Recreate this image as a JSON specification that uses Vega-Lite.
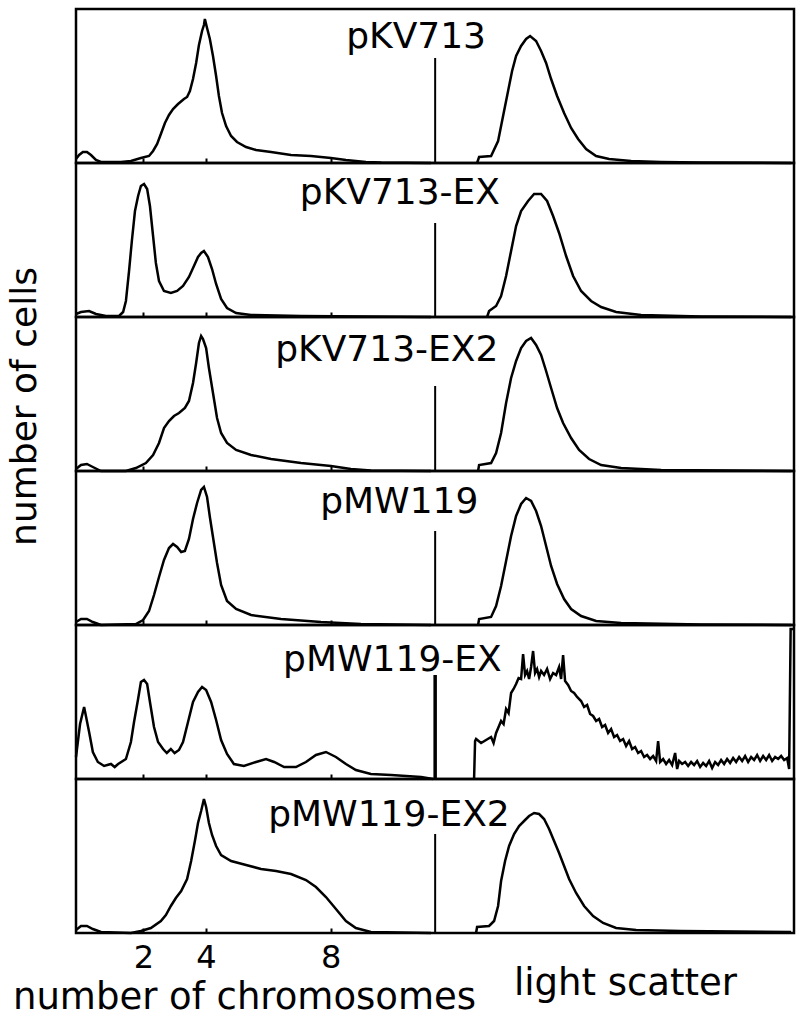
{
"$schema":"https://vega.github.io/schema/vega-lite/v6.json",
"background":"white",
"padding":{"left":4,"top":7,"right":5,"bottom":0},
"spacing":0,
"bounds":"flush",
"config":{"view":{"stroke":"black","strokeWidth":2.5},"axis":{"titleFont":"DejaVu Sans","labelFont":"DejaVu Sans","titleFontWeight":"normal","titleColor":"black","labelColor":"black"},"concat":{"spacing":0}},
"datasets":{
"dna":[
{"plasmid":"pKV713","chromosomes":-0.16,"cells":4},{"plasmid":"pKV713","chromosomes":-0.06,"cells":8},{"plasmid":"pKV713","chromosomes":0.06,"cells":11},{"plasmid":"pKV713","chromosomes":0.19,"cells":11},{"plasmid":"pKV713","chromosomes":0.32,"cells":8},{"plasmid":"pKV713","chromosomes":0.48,"cells":3},{"plasmid":"pKV713","chromosomes":0.64,"cells":1},{"plasmid":"pKV713","chromosomes":1.28,"cells":1},{"plasmid":"pKV713","chromosomes":1.6,"cells":2},{"plasmid":"pKV713","chromosomes":1.92,"cells":5},{"plasmid":"pKV713","chromosomes":2.18,"cells":7},{"plasmid":"pKV713","chromosomes":2.31,"cells":12},{"plasmid":"pKV713","chromosomes":2.44,"cells":19},{"plasmid":"pKV713","chromosomes":2.56,"cells":29},{"plasmid":"pKV713","chromosomes":2.69,"cells":40},{"plasmid":"pKV713","chromosomes":2.82,"cells":48},{"plasmid":"pKV713","chromosomes":2.95,"cells":54},{"plasmid":"pKV713","chromosomes":3.11,"cells":59},{"plasmid":"pKV713","chromosomes":3.3,"cells":64},{"plasmid":"pKV713","chromosomes":3.4,"cells":66},{"plasmid":"pKV713","chromosomes":3.49,"cells":72},{"plasmid":"pKV713","chromosomes":3.59,"cells":84},{"plasmid":"pKV713","chromosomes":3.69,"cells":100},{"plasmid":"pKV713","chromosomes":3.78,"cells":118},{"plasmid":"pKV713","chromosomes":3.88,"cells":132},{"plasmid":"pKV713","chromosomes":3.94,"cells":138},{"plasmid":"pKV713","chromosomes":3.97,"cells":144},{"plasmid":"pKV713","chromosomes":4.04,"cells":135},{"plasmid":"pKV713","chromosomes":4.13,"cells":124},{"plasmid":"pKV713","chromosomes":4.23,"cells":107},{"plasmid":"pKV713","chromosomes":4.33,"cells":87},{"plasmid":"pKV713","chromosomes":4.42,"cells":67},{"plasmid":"pKV713","chromosomes":4.52,"cells":50},{"plasmid":"pKV713","chromosomes":4.65,"cells":37},{"plasmid":"pKV713","chromosomes":4.81,"cells":27},{"plasmid":"pKV713","chromosomes":5.0,"cells":21},{"plasmid":"pKV713","chromosomes":5.29,"cells":16},{"plasmid":"pKV713","chromosomes":5.61,"cells":13},{"plasmid":"pKV713","chromosomes":6.09,"cells":11},{"plasmid":"pKV713","chromosomes":6.73,"cells":8},{"plasmid":"pKV713","chromosomes":7.37,"cells":7},{"plasmid":"pKV713","chromosomes":8.01,"cells":5},{"plasmid":"pKV713","chromosomes":8.49,"cells":3},{"plasmid":"pKV713","chromosomes":9.13,"cells":1},{"plasmid":"pKV713","chromosomes":9.62,"cells":0.5},{"plasmid":"pKV713","chromosomes":11.22,"cells":0},
{"plasmid":"pKV713-EX","chromosomes":-0.16,"cells":3},{"plasmid":"pKV713-EX","chromosomes":0,"cells":5},{"plasmid":"pKV713-EX","chromosomes":0.26,"cells":6},{"plasmid":"pKV713-EX","chromosomes":0.48,"cells":3},{"plasmid":"pKV713-EX","chromosomes":0.8,"cells":1},{"plasmid":"pKV713-EX","chromosomes":1.22,"cells":1},{"plasmid":"pKV713-EX","chromosomes":1.35,"cells":5},{"plasmid":"pKV713-EX","chromosomes":1.44,"cells":16},{"plasmid":"pKV713-EX","chromosomes":1.54,"cells":46},{"plasmid":"pKV713-EX","chromosomes":1.63,"cells":76},{"plasmid":"pKV713-EX","chromosomes":1.73,"cells":106},{"plasmid":"pKV713-EX","chromosomes":1.83,"cells":121},{"plasmid":"pKV713-EX","chromosomes":1.92,"cells":131},{"plasmid":"pKV713-EX","chromosomes":2.02,"cells":133},{"plasmid":"pKV713-EX","chromosomes":2.12,"cells":128},{"plasmid":"pKV713-EX","chromosomes":2.21,"cells":111},{"plasmid":"pKV713-EX","chromosomes":2.31,"cells":81},{"plasmid":"pKV713-EX","chromosomes":2.4,"cells":54},{"plasmid":"pKV713-EX","chromosomes":2.5,"cells":36},{"plasmid":"pKV713-EX","chromosomes":2.66,"cells":26},{"plasmid":"pKV713-EX","chromosomes":2.88,"cells":24},{"plasmid":"pKV713-EX","chromosomes":3.08,"cells":26},{"plasmid":"pKV713-EX","chromosomes":3.27,"cells":31},{"plasmid":"pKV713-EX","chromosomes":3.46,"cells":40},{"plasmid":"pKV713-EX","chromosomes":3.62,"cells":51},{"plasmid":"pKV713-EX","chromosomes":3.75,"cells":60},{"plasmid":"pKV713-EX","chromosomes":3.85,"cells":64},{"plasmid":"pKV713-EX","chromosomes":3.94,"cells":66},{"plasmid":"pKV713-EX","chromosomes":4.07,"cells":60},{"plasmid":"pKV713-EX","chromosomes":4.2,"cells":48},{"plasmid":"pKV713-EX","chromosomes":4.33,"cells":33},{"plasmid":"pKV713-EX","chromosomes":4.49,"cells":18},{"plasmid":"pKV713-EX","chromosomes":4.68,"cells":9},{"plasmid":"pKV713-EX","chromosomes":4.97,"cells":4},{"plasmid":"pKV713-EX","chromosomes":5.45,"cells":2},{"plasmid":"pKV713-EX","chromosomes":7.05,"cells":1},{"plasmid":"pKV713-EX","chromosomes":11.22,"cells":0},
{"plasmid":"pKV713-EX2","chromosomes":-0.16,"cells":2},{"plasmid":"pKV713-EX2","chromosomes":0,"cells":6},{"plasmid":"pKV713-EX2","chromosomes":0.19,"cells":7},{"plasmid":"pKV713-EX2","chromosomes":0.38,"cells":4},{"plasmid":"pKV713-EX2","chromosomes":0.64,"cells":0},{"plasmid":"pKV713-EX2","chromosomes":1.44,"cells":0},{"plasmid":"pKV713-EX2","chromosomes":1.76,"cells":3},{"plasmid":"pKV713-EX2","chromosomes":2.08,"cells":8},{"plasmid":"pKV713-EX2","chromosomes":2.31,"cells":16},{"plasmid":"pKV713-EX2","chromosomes":2.5,"cells":28},{"plasmid":"pKV713-EX2","chromosomes":2.66,"cells":43},{"plasmid":"pKV713-EX2","chromosomes":2.82,"cells":50},{"plasmid":"pKV713-EX2","chromosomes":2.98,"cells":55},{"plasmid":"pKV713-EX2","chromosomes":3.14,"cells":58},{"plasmid":"pKV713-EX2","chromosomes":3.33,"cells":63},{"plasmid":"pKV713-EX2","chromosomes":3.46,"cells":70},{"plasmid":"pKV713-EX2","chromosomes":3.59,"cells":88},{"plasmid":"pKV713-EX2","chromosomes":3.69,"cells":108},{"plasmid":"pKV713-EX2","chromosomes":3.78,"cells":128},{"plasmid":"pKV713-EX2","chromosomes":3.85,"cells":135},{"plasmid":"pKV713-EX2","chromosomes":3.91,"cells":132},{"plasmid":"pKV713-EX2","chromosomes":4.01,"cells":123},{"plasmid":"pKV713-EX2","chromosomes":4.1,"cells":103},{"plasmid":"pKV713-EX2","chromosomes":4.23,"cells":78},{"plasmid":"pKV713-EX2","chromosomes":4.36,"cells":53},{"plasmid":"pKV713-EX2","chromosomes":4.49,"cells":38},{"plasmid":"pKV713-EX2","chromosomes":4.68,"cells":28},{"plasmid":"pKV713-EX2","chromosomes":4.97,"cells":21},{"plasmid":"pKV713-EX2","chromosomes":5.45,"cells":16},{"plasmid":"pKV713-EX2","chromosomes":6.09,"cells":12},{"plasmid":"pKV713-EX2","chromosomes":7.05,"cells":8},{"plasmid":"pKV713-EX2","chromosomes":8.01,"cells":5},{"plasmid":"pKV713-EX2","chromosomes":8.65,"cells":2},{"plasmid":"pKV713-EX2","chromosomes":9.29,"cells":0.5},{"plasmid":"pKV713-EX2","chromosomes":11.22,"cells":0},
{"plasmid":"pMW119","chromosomes":-0.16,"cells":3},{"plasmid":"pMW119","chromosomes":0,"cells":6},{"plasmid":"pMW119","chromosomes":0.19,"cells":6},{"plasmid":"pMW119","chromosomes":0.38,"cells":3},{"plasmid":"pMW119","chromosomes":0.64,"cells":0},{"plasmid":"pMW119","chromosomes":1.76,"cells":1},{"plasmid":"pMW119","chromosomes":1.99,"cells":5},{"plasmid":"pMW119","chromosomes":2.18,"cells":14},{"plasmid":"pMW119","chromosomes":2.34,"cells":30},{"plasmid":"pMW119","chromosomes":2.5,"cells":48},{"plasmid":"pMW119","chromosomes":2.66,"cells":65},{"plasmid":"pMW119","chromosomes":2.82,"cells":77},{"plasmid":"pMW119","chromosomes":2.95,"cells":81},{"plasmid":"pMW119","chromosomes":3.08,"cells":78},{"plasmid":"pMW119","chromosomes":3.21,"cells":73},{"plasmid":"pMW119","chromosomes":3.33,"cells":74},{"plasmid":"pMW119","chromosomes":3.46,"cells":86},{"plasmid":"pMW119","chromosomes":3.59,"cells":106},{"plasmid":"pMW119","chromosomes":3.72,"cells":122},{"plasmid":"pMW119","chromosomes":3.85,"cells":135},{"plasmid":"pMW119","chromosomes":3.94,"cells":138},{"plasmid":"pMW119","chromosomes":4.04,"cells":128},{"plasmid":"pMW119","chromosomes":4.13,"cells":108},{"plasmid":"pMW119","chromosomes":4.23,"cells":88},{"plasmid":"pMW119","chromosomes":4.36,"cells":62},{"plasmid":"pMW119","chromosomes":4.49,"cells":40},{"plasmid":"pMW119","chromosomes":4.68,"cells":24},{"plasmid":"pMW119","chromosomes":4.97,"cells":16},{"plasmid":"pMW119","chromosomes":5.45,"cells":10},{"plasmid":"pMW119","chromosomes":6.41,"cells":6},{"plasmid":"pMW119","chromosomes":7.69,"cells":3},{"plasmid":"pMW119","chromosomes":8.97,"cells":1},{"plasmid":"pMW119","chromosomes":11.22,"cells":0},
{"plasmid":"pMW119-EX","chromosomes":-0.16,"cells":22},{"plasmid":"pMW119-EX","chromosomes":-0.03,"cells":55},{"plasmid":"pMW119-EX","chromosomes":0.1,"cells":72},{"plasmid":"pMW119-EX","chromosomes":0.26,"cells":47},{"plasmid":"pMW119-EX","chromosomes":0.38,"cells":27},{"plasmid":"pMW119-EX","chromosomes":0.54,"cells":17},{"plasmid":"pMW119-EX","chromosomes":0.74,"cells":13},{"plasmid":"pMW119-EX","chromosomes":0.96,"cells":15},{"plasmid":"pMW119-EX","chromosomes":1.08,"cells":12},{"plasmid":"pMW119-EX","chromosomes":1.19,"cells":15},{"plasmid":"pMW119-EX","chromosomes":1.44,"cells":20},{"plasmid":"pMW119-EX","chromosomes":1.6,"cells":37},{"plasmid":"pMW119-EX","chromosomes":1.7,"cells":57},{"plasmid":"pMW119-EX","chromosomes":1.83,"cells":80},{"plasmid":"pMW119-EX","chromosomes":1.92,"cells":97},{"plasmid":"pMW119-EX","chromosomes":2.02,"cells":99},{"plasmid":"pMW119-EX","chromosomes":2.12,"cells":95},{"plasmid":"pMW119-EX","chromosomes":2.21,"cells":77},{"plasmid":"pMW119-EX","chromosomes":2.34,"cells":52},{"plasmid":"pMW119-EX","chromosomes":2.47,"cells":37},{"plasmid":"pMW119-EX","chromosomes":2.63,"cells":30},{"plasmid":"pMW119-EX","chromosomes":2.75,"cells":26},{"plasmid":"pMW119-EX","chromosomes":2.88,"cells":30},{"plasmid":"pMW119-EX","chromosomes":3.0,"cells":26},{"plasmid":"pMW119-EX","chromosomes":3.14,"cells":29},{"plasmid":"pMW119-EX","chromosomes":3.27,"cells":37},{"plasmid":"pMW119-EX","chromosomes":3.43,"cells":57},{"plasmid":"pMW119-EX","chromosomes":3.59,"cells":77},{"plasmid":"pMW119-EX","chromosomes":3.75,"cells":87},{"plasmid":"pMW119-EX","chromosomes":3.88,"cells":92},{"plasmid":"pMW119-EX","chromosomes":4.01,"cells":89},{"plasmid":"pMW119-EX","chromosomes":4.17,"cells":77},{"plasmid":"pMW119-EX","chromosomes":4.33,"cells":59},{"plasmid":"pMW119-EX","chromosomes":4.49,"cells":39},{"plasmid":"pMW119-EX","chromosomes":4.68,"cells":25},{"plasmid":"pMW119-EX","chromosomes":4.9,"cells":15},{"plasmid":"pMW119-EX","chromosomes":5.22,"cells":13},{"plasmid":"pMW119-EX","chromosomes":5.61,"cells":17},{"plasmid":"pMW119-EX","chromosomes":5.93,"cells":20},{"plasmid":"pMW119-EX","chromosomes":6.19,"cells":17},{"plasmid":"pMW119-EX","chromosomes":6.51,"cells":12},{"plasmid":"pMW119-EX","chromosomes":6.89,"cells":12},{"plasmid":"pMW119-EX","chromosomes":7.21,"cells":17},{"plasmid":"pMW119-EX","chromosomes":7.53,"cells":24},{"plasmid":"pMW119-EX","chromosomes":7.85,"cells":27},{"plasmid":"pMW119-EX","chromosomes":8.17,"cells":22},{"plasmid":"pMW119-EX","chromosomes":8.49,"cells":15},{"plasmid":"pMW119-EX","chromosomes":8.81,"cells":9},{"plasmid":"pMW119-EX","chromosomes":9.29,"cells":5},{"plasmid":"pMW119-EX","chromosomes":9.94,"cells":4},{"plasmid":"pMW119-EX","chromosomes":10.42,"cells":3},{"plasmid":"pMW119-EX","chromosomes":10.9,"cells":2},{"plasmid":"pMW119-EX","chromosomes":11.28,"cells":0},
{"plasmid":"pMW119-EX2","chromosomes":-0.16,"cells":3},{"plasmid":"pMW119-EX2","chromosomes":0,"cells":7},{"plasmid":"pMW119-EX2","chromosomes":0.19,"cells":7},{"plasmid":"pMW119-EX2","chromosomes":0.38,"cells":4},{"plasmid":"pMW119-EX2","chromosomes":0.64,"cells":1},{"plasmid":"pMW119-EX2","chromosomes":1.6,"cells":0},{"plasmid":"pMW119-EX2","chromosomes":1.92,"cells":2},{"plasmid":"pMW119-EX2","chromosomes":2.24,"cells":5},{"plasmid":"pMW119-EX2","chromosomes":2.56,"cells":12},{"plasmid":"pMW119-EX2","chromosomes":2.72,"cells":18},{"plasmid":"pMW119-EX2","chromosomes":2.88,"cells":27},{"plasmid":"pMW119-EX2","chromosomes":3.04,"cells":35},{"plasmid":"pMW119-EX2","chromosomes":3.21,"cells":42},{"plasmid":"pMW119-EX2","chromosomes":3.4,"cells":54},{"plasmid":"pMW119-EX2","chromosomes":3.53,"cells":72},{"plasmid":"pMW119-EX2","chromosomes":3.65,"cells":92},{"plasmid":"pMW119-EX2","chromosomes":3.75,"cells":110},{"plasmid":"pMW119-EX2","chromosomes":3.85,"cells":122},{"plasmid":"pMW119-EX2","chromosomes":3.91,"cells":130},{"plasmid":"pMW119-EX2","chromosomes":3.94,"cells":134},{"plasmid":"pMW119-EX2","chromosomes":4.01,"cells":126},{"plasmid":"pMW119-EX2","chromosomes":4.1,"cells":110},{"plasmid":"pMW119-EX2","chromosomes":4.2,"cells":98},{"plasmid":"pMW119-EX2","chromosomes":4.33,"cells":87},{"plasmid":"pMW119-EX2","chromosomes":4.49,"cells":78},{"plasmid":"pMW119-EX2","chromosomes":4.81,"cells":72},{"plasmid":"pMW119-EX2","chromosomes":5.29,"cells":68},{"plasmid":"pMW119-EX2","chromosomes":5.77,"cells":64},{"plasmid":"pMW119-EX2","chromosomes":6.25,"cells":62},{"plasmid":"pMW119-EX2","chromosomes":6.73,"cells":59},{"plasmid":"pMW119-EX2","chromosomes":7.21,"cells":53},{"plasmid":"pMW119-EX2","chromosomes":7.53,"cells":46},{"plasmid":"pMW119-EX2","chromosomes":7.85,"cells":36},{"plasmid":"pMW119-EX2","chromosomes":8.17,"cells":24},{"plasmid":"pMW119-EX2","chromosomes":8.49,"cells":12},{"plasmid":"pMW119-EX2","chromosomes":8.81,"cells":5},{"plasmid":"pMW119-EX2","chromosomes":9.29,"cells":1},{"plasmid":"pMW119-EX2","chromosomes":11.22,"cells":0}
],
"dividers":[
{"plasmid":"pKV713","chromosomes":11.35,"cells":105},
{"plasmid":"pKV713-EX","chromosomes":11.35,"cells":94},
{"plasmid":"pKV713-EX2","chromosomes":11.35,"cells":85},
{"plasmid":"pMW119","chromosomes":11.35,"cells":94},
{"plasmid":"pMW119-EX","chromosomes":11.35,"cells":104},
{"plasmid":"pMW119-EX2","chromosomes":11.35,"cells":99}
],
"scatter":[
{"plasmid":"pKV713","channel":561.4,"cells":0},{"plasmid":"pKV713","channel":564.2,"cells":6},{"plasmid":"pKV713","channel":581,"cells":7},{"plasmid":"pKV713","channel":590.8,"cells":22},{"plasmid":"pKV713","channel":595,"cells":37},{"plasmid":"pKV713","channel":599.2,"cells":52},{"plasmid":"pKV713","channel":604.8,"cells":72},{"plasmid":"pKV713","channel":610.4,"cells":92},{"plasmid":"pKV713","channel":616,"cells":107},{"plasmid":"pKV713","channel":623,"cells":117},{"plasmid":"pKV713","channel":630,"cells":124},{"plasmid":"pKV713","channel":635.6,"cells":127},{"plasmid":"pKV713","channel":644,"cells":122},{"plasmid":"pKV713","channel":651,"cells":112},{"plasmid":"pKV713","channel":658,"cells":100},{"plasmid":"pKV713","channel":665,"cells":84},{"plasmid":"pKV713","channel":673.4,"cells":67},{"plasmid":"pKV713","channel":683.2,"cells":50},{"plasmid":"pKV713","channel":693,"cells":35},{"plasmid":"pKV713","channel":702.8,"cells":24},{"plasmid":"pKV713","channel":714,"cells":14},{"plasmid":"pKV713","channel":728,"cells":7},{"plasmid":"pKV713","channel":746.2,"cells":4},{"plasmid":"pKV713","channel":777,"cells":2},{"plasmid":"pKV713","channel":819,"cells":1},{"plasmid":"pKV713","channel":875,"cells":0.5},{"plasmid":"pKV713","channel":1001,"cells":0},
{"plasmid":"pKV713-EX","channel":575.4,"cells":0},{"plasmid":"pKV713-EX","channel":578.2,"cells":6},{"plasmid":"pKV713-EX","channel":588,"cells":11},{"plasmid":"pKV713-EX","channel":595,"cells":21},{"plasmid":"pKV713-EX","channel":602,"cells":41},{"plasmid":"pKV713-EX","channel":609,"cells":66},{"plasmid":"pKV713-EX","channel":616,"cells":91},{"plasmid":"pKV713-EX","channel":623,"cells":106},{"plasmid":"pKV713-EX","channel":632.8,"cells":116},{"plasmid":"pKV713-EX","channel":641.2,"cells":123},{"plasmid":"pKV713-EX","channel":651,"cells":123},{"plasmid":"pKV713-EX","channel":659.4,"cells":116},{"plasmid":"pKV713-EX","channel":667.8,"cells":101},{"plasmid":"pKV713-EX","channel":676.2,"cells":84},{"plasmid":"pKV713-EX","channel":686,"cells":61},{"plasmid":"pKV713-EX","channel":695.8,"cells":41},{"plasmid":"pKV713-EX","channel":707,"cells":26},{"plasmid":"pKV713-EX","channel":721,"cells":16},{"plasmid":"pKV713-EX","channel":735,"cells":10},{"plasmid":"pKV713-EX","channel":756,"cells":5},{"plasmid":"pKV713-EX","channel":791,"cells":2},{"plasmid":"pKV713-EX","channel":875,"cells":0.5},{"plasmid":"pKV713-EX","channel":1001,"cells":0},
{"plasmid":"pKV713-EX2","channel":562.8,"cells":0},{"plasmid":"pKV713-EX2","channel":564.2,"cells":6},{"plasmid":"pKV713-EX2","channel":581,"cells":8},{"plasmid":"pKV713-EX2","channel":588,"cells":18},{"plasmid":"pKV713-EX2","channel":595,"cells":38},{"plasmid":"pKV713-EX2","channel":602,"cells":68},{"plasmid":"pKV713-EX2","channel":609,"cells":93},{"plasmid":"pKV713-EX2","channel":616,"cells":110},{"plasmid":"pKV713-EX2","channel":623,"cells":123},{"plasmid":"pKV713-EX2","channel":630,"cells":130},{"plasmid":"pKV713-EX2","channel":637,"cells":133},{"plasmid":"pKV713-EX2","channel":644,"cells":126},{"plasmid":"pKV713-EX2","channel":651,"cells":116},{"plasmid":"pKV713-EX2","channel":658,"cells":100},{"plasmid":"pKV713-EX2","channel":665,"cells":83},{"plasmid":"pKV713-EX2","channel":673.4,"cells":63},{"plasmid":"pKV713-EX2","channel":681.8,"cells":48},{"plasmid":"pKV713-EX2","channel":693,"cells":33},{"plasmid":"pKV713-EX2","channel":704.2,"cells":21},{"plasmid":"pKV713-EX2","channel":718.2,"cells":12},{"plasmid":"pKV713-EX2","channel":735,"cells":6},{"plasmid":"pKV713-EX2","channel":763,"cells":3},{"plasmid":"pKV713-EX2","channel":819,"cells":1},{"plasmid":"pKV713-EX2","channel":1001,"cells":0},
{"plasmid":"pMW119","channel":562.8,"cells":0},{"plasmid":"pMW119","channel":564.2,"cells":6},{"plasmid":"pMW119","channel":581,"cells":8},{"plasmid":"pMW119","channel":588,"cells":19},{"plasmid":"pMW119","channel":595,"cells":39},{"plasmid":"pMW119","channel":602,"cells":64},{"plasmid":"pMW119","channel":609,"cells":89},{"plasmid":"pMW119","channel":616,"cells":109},{"plasmid":"pMW119","channel":623,"cells":121},{"plasmid":"pMW119","channel":630,"cells":127},{"plasmid":"pMW119","channel":637,"cells":124},{"plasmid":"pMW119","channel":644,"cells":114},{"plasmid":"pMW119","channel":651,"cells":99},{"plasmid":"pMW119","channel":658,"cells":79},{"plasmid":"pMW119","channel":665,"cells":59},{"plasmid":"pMW119","channel":673.4,"cells":41},{"plasmid":"pMW119","channel":683.2,"cells":26},{"plasmid":"pMW119","channel":693,"cells":16},{"plasmid":"pMW119","channel":707,"cells":9},{"plasmid":"pMW119","channel":728,"cells":4},{"plasmid":"pMW119","channel":763,"cells":2},{"plasmid":"pMW119","channel":875,"cells":0.5},{"plasmid":"pMW119","channel":1001,"cells":0},
{"plasmid":"pMW119-EX","channel":557.2,"cells":0},{"plasmid":"pMW119-EX","channel":558.6,"cells":38},{"plasmid":"pMW119-EX","channel":560,"cells":40},{"plasmid":"pMW119-EX","channel":567,"cells":36},{"plasmid":"pMW119-EX","channel":574,"cells":39},{"plasmid":"pMW119-EX","channel":581,"cells":42},{"plasmid":"pMW119-EX","channel":584.5,"cells":36},{"plasmid":"pMW119-EX","channel":588,"cells":46},{"plasmid":"pMW119-EX","channel":591.5,"cells":52},{"plasmid":"pMW119-EX","channel":595,"cells":58},{"plasmid":"pMW119-EX","channel":598.5,"cells":55},{"plasmid":"pMW119-EX","channel":602,"cells":70},{"plasmid":"pMW119-EX","channel":605.5,"cells":66},{"plasmid":"pMW119-EX","channel":609,"cells":86},{"plasmid":"pMW119-EX","channel":612.5,"cells":90},{"plasmid":"pMW119-EX","channel":616,"cells":95},{"plasmid":"pMW119-EX","channel":619.5,"cells":101},{"plasmid":"pMW119-EX","channel":623,"cells":100},{"plasmid":"pMW119-EX","channel":625.8,"cells":125},{"plasmid":"pMW119-EX","channel":628.6,"cells":104},{"plasmid":"pMW119-EX","channel":631.4,"cells":108},{"plasmid":"pMW119-EX","channel":634.2,"cells":100},{"plasmid":"pMW119-EX","channel":637,"cells":112},{"plasmid":"pMW119-EX","channel":639.8,"cells":128},{"plasmid":"pMW119-EX","channel":642.6,"cells":106},{"plasmid":"pMW119-EX","channel":645.4,"cells":110},{"plasmid":"pMW119-EX","channel":648.2,"cells":102},{"plasmid":"pMW119-EX","channel":651,"cells":108},{"plasmid":"pMW119-EX","channel":655.2,"cells":104},{"plasmid":"pMW119-EX","channel":659.4,"cells":110},{"plasmid":"pMW119-EX","channel":663.6,"cells":100},{"plasmid":"pMW119-EX","channel":667.8,"cells":106},{"plasmid":"pMW119-EX","channel":672,"cells":104},{"plasmid":"pMW119-EX","channel":676.2,"cells":112},{"plasmid":"pMW119-EX","channel":679,"cells":100},{"plasmid":"pMW119-EX","channel":681.8,"cells":124},{"plasmid":"pMW119-EX","channel":684.6,"cells":98},{"plasmid":"pMW119-EX","channel":688.8,"cells":94},{"plasmid":"pMW119-EX","channel":693,"cells":88},{"plasmid":"pMW119-EX","channel":697.2,"cells":86},{"plasmid":"pMW119-EX","channel":701.4,"cells":82},{"plasmid":"pMW119-EX","channel":707,"cells":78},{"plasmid":"pMW119-EX","channel":711.2,"cells":72},{"plasmid":"pMW119-EX","channel":715.4,"cells":74},{"plasmid":"pMW119-EX","channel":719.6,"cells":65},{"plasmid":"pMW119-EX","channel":723.8,"cells":63},{"plasmid":"pMW119-EX","channel":728,"cells":58},{"plasmid":"pMW119-EX","channel":732.2,"cells":60},{"plasmid":"pMW119-EX","channel":736.4,"cells":52},{"plasmid":"pMW119-EX","channel":740.6,"cells":54},{"plasmid":"pMW119-EX","channel":744.8,"cells":46},{"plasmid":"pMW119-EX","channel":749,"cells":50},{"plasmid":"pMW119-EX","channel":753.2,"cells":42},{"plasmid":"pMW119-EX","channel":757.4,"cells":44},{"plasmid":"pMW119-EX","channel":761.6,"cells":38},{"plasmid":"pMW119-EX","channel":765.8,"cells":40},{"plasmid":"pMW119-EX","channel":770,"cells":33},{"plasmid":"pMW119-EX","channel":774.2,"cells":38},{"plasmid":"pMW119-EX","channel":778.4,"cells":30},{"plasmid":"pMW119-EX","channel":782.6,"cells":32},{"plasmid":"pMW119-EX","channel":786.8,"cells":26},{"plasmid":"pMW119-EX","channel":791,"cells":28},{"plasmid":"pMW119-EX","channel":795.2,"cells":22},{"plasmid":"pMW119-EX","channel":799.4,"cells":24},{"plasmid":"pMW119-EX","channel":803.6,"cells":20},{"plasmid":"pMW119-EX","channel":807.8,"cells":23},{"plasmid":"pMW119-EX","channel":812,"cells":18},{"plasmid":"pMW119-EX","channel":814.8,"cells":38},{"plasmid":"pMW119-EX","channel":817.6,"cells":17},{"plasmid":"pMW119-EX","channel":821.8,"cells":20},{"plasmid":"pMW119-EX","channel":826,"cells":15},{"plasmid":"pMW119-EX","channel":830.2,"cells":19},{"plasmid":"pMW119-EX","channel":834.4,"cells":14},{"plasmid":"pMW119-EX","channel":838.6,"cells":26},{"plasmid":"pMW119-EX","channel":841.4,"cells":10},{"plasmid":"pMW119-EX","channel":844.2,"cells":18},{"plasmid":"pMW119-EX","channel":848.4,"cells":15},{"plasmid":"pMW119-EX","channel":852.6,"cells":17},{"plasmid":"pMW119-EX","channel":856.8,"cells":13},{"plasmid":"pMW119-EX","channel":861,"cells":17},{"plasmid":"pMW119-EX","channel":865.2,"cells":14},{"plasmid":"pMW119-EX","channel":869.4,"cells":18},{"plasmid":"pMW119-EX","channel":873.6,"cells":12},{"plasmid":"pMW119-EX","channel":877.8,"cells":16},{"plasmid":"pMW119-EX","channel":882,"cells":13},{"plasmid":"pMW119-EX","channel":886.2,"cells":18},{"plasmid":"pMW119-EX","channel":890.4,"cells":11},{"plasmid":"pMW119-EX","channel":894.6,"cells":17},{"plasmid":"pMW119-EX","channel":898.8,"cells":14},{"plasmid":"pMW119-EX","channel":903,"cells":19},{"plasmid":"pMW119-EX","channel":907.2,"cells":15},{"plasmid":"pMW119-EX","channel":911.4,"cells":20},{"plasmid":"pMW119-EX","channel":915.6,"cells":16},{"plasmid":"pMW119-EX","channel":919.8,"cells":21},{"plasmid":"pMW119-EX","channel":924,"cells":17},{"plasmid":"pMW119-EX","channel":928.2,"cells":22},{"plasmid":"pMW119-EX","channel":932.4,"cells":18},{"plasmid":"pMW119-EX","channel":936.6,"cells":23},{"plasmid":"pMW119-EX","channel":940.8,"cells":17},{"plasmid":"pMW119-EX","channel":945,"cells":22},{"plasmid":"pMW119-EX","channel":949.2,"cells":19},{"plasmid":"pMW119-EX","channel":953.4,"cells":24},{"plasmid":"pMW119-EX","channel":957.6,"cells":18},{"plasmid":"pMW119-EX","channel":961.8,"cells":23},{"plasmid":"pMW119-EX","channel":966,"cells":19},{"plasmid":"pMW119-EX","channel":970.2,"cells":24},{"plasmid":"pMW119-EX","channel":974.4,"cells":18},{"plasmid":"pMW119-EX","channel":978.6,"cells":22},{"plasmid":"pMW119-EX","channel":982.8,"cells":20},{"plasmid":"pMW119-EX","channel":987,"cells":23},{"plasmid":"pMW119-EX","channel":991.2,"cells":19},{"plasmid":"pMW119-EX","channel":995.4,"cells":21},{"plasmid":"pMW119-EX","channel":998.2,"cells":10},{"plasmid":"pMW119-EX","channel":1000.3,"cells":150},{"plasmid":"pMW119-EX","channel":1003.8,"cells":150},
{"plasmid":"pMW119-EX2","channel":560,"cells":0},{"plasmid":"pMW119-EX2","channel":561.4,"cells":6},{"plasmid":"pMW119-EX2","channel":578.2,"cells":7},{"plasmid":"pMW119-EX2","channel":585.2,"cells":12},{"plasmid":"pMW119-EX2","channel":590.8,"cells":27},{"plasmid":"pMW119-EX2","channel":595,"cells":52},{"plasmid":"pMW119-EX2","channel":600.6,"cells":72},{"plasmid":"pMW119-EX2","channel":606.2,"cells":87},{"plasmid":"pMW119-EX2","channel":613.2,"cells":99},{"plasmid":"pMW119-EX2","channel":620.2,"cells":107},{"plasmid":"pMW119-EX2","channel":627.2,"cells":112},{"plasmid":"pMW119-EX2","channel":634.2,"cells":117},{"plasmid":"pMW119-EX2","channel":641.2,"cells":120},{"plasmid":"pMW119-EX2","channel":648.2,"cells":119},{"plasmid":"pMW119-EX2","channel":655.2,"cells":114},{"plasmid":"pMW119-EX2","channel":662.2,"cells":104},{"plasmid":"pMW119-EX2","channel":669.2,"cells":92},{"plasmid":"pMW119-EX2","channel":676.2,"cells":80},{"plasmid":"pMW119-EX2","channel":683.2,"cells":67},{"plasmid":"pMW119-EX2","channel":690.2,"cells":54},{"plasmid":"pMW119-EX2","channel":700,"cells":40},{"plasmid":"pMW119-EX2","channel":711.2,"cells":27},{"plasmid":"pMW119-EX2","channel":723.8,"cells":17},{"plasmid":"pMW119-EX2","channel":737.8,"cells":10},{"plasmid":"pMW119-EX2","channel":756,"cells":5},{"plasmid":"pMW119-EX2","channel":784,"cells":3},{"plasmid":"pMW119-EX2","channel":847,"cells":2},{"plasmid":"pMW119-EX2","channel":1001,"cells":1}
]
},
"vconcat":[
{"width":718,"height":154,"resolve":{"scale":{"x":"independent"}},"layer":[
  {"data":{"name":"dna"},"transform":[{"filter":{"field":"plasmid","equal":"pKV713"}}],"mark":{"type":"line","color":"black","strokeWidth":2.5},
   "encoding":{"x":{"field":"chromosomes","type":"quantitative","scale":{"domain":[-0.16,22.85],"nice":false,"zero":false},"axis":{"values":[2,4,8],"labels":false,"domain":false,"grid":false,"tickSize":-5,"tickWidth":2,"tickColor":"black","title":null}},
   "y":{"field":"cells","type":"quantitative","scale":{"domain":[0,154],"nice":false,"zero":false},"axis":null}}},
  {"data":{"name":"dividers"},"transform":[{"filter":{"field":"plasmid","equal":"pKV713"}}],"mark":{"type":"rule","color":"black","strokeWidth":2},
   "encoding":{"x":{"field":"chromosomes","type":"quantitative","scale":{"domain":[-0.16,22.85],"nice":false,"zero":false},"axis":null},"y":{"field":"cells","type":"quantitative","axis":null},"y2":{"datum":0}}},
  {"data":{"values":[{"plasmid":"pKV713"}]},"mark":{"type":"text","font":"DejaVu Sans","fontSize":36,"color":"black","align":"center","baseline":"alphabetic"},
   "encoding":{"x":{"datum":10.74,"type":"quantitative","scale":{"domain":[-0.16,22.85],"nice":false,"zero":false},"axis":null},"y":{"datum":115,"type":"quantitative","axis":null},"text":{"field":"plasmid"}}},
  {"data":{"name":"scatter"},"transform":[{"filter":{"field":"plasmid","equal":"pKV713"}}],"mark":{"type":"line","color":"black","strokeWidth":2.5},
   "encoding":{"x":{"field":"channel","type":"quantitative","scale":{"domain":[0,1005],"nice":false,"zero":false},"axis":null},"y":{"field":"cells","type":"quantitative","axis":null}}}
]},
{"width":718,"height":154,"resolve":{"scale":{"x":"independent"}},"layer":[
  {"data":{"name":"dna"},"transform":[{"filter":{"field":"plasmid","equal":"pKV713-EX"}}],"mark":{"type":"line","color":"black","strokeWidth":2.5},
   "encoding":{"x":{"field":"chromosomes","type":"quantitative","scale":{"domain":[-0.16,22.85],"nice":false,"zero":false},"axis":{"values":[2,4,8],"labels":false,"domain":false,"grid":false,"tickSize":-5,"tickWidth":2,"tickColor":"black","title":null}},
   "y":{"field":"cells","type":"quantitative","scale":{"domain":[0,154],"nice":false,"zero":false},"axis":null}}},
  {"data":{"name":"dividers"},"transform":[{"filter":{"field":"plasmid","equal":"pKV713-EX"}}],"mark":{"type":"rule","color":"black","strokeWidth":2},
   "encoding":{"x":{"field":"chromosomes","type":"quantitative","scale":{"domain":[-0.16,22.85],"nice":false,"zero":false},"axis":null},"y":{"field":"cells","type":"quantitative","axis":null},"y2":{"datum":0}}},
  {"data":{"values":[{"plasmid":"pKV713-EX"}]},"mark":{"type":"text","font":"DejaVu Sans","fontSize":36,"color":"black","align":"center","baseline":"alphabetic"},
   "encoding":{"x":{"datum":10.22,"type":"quantitative","scale":{"domain":[-0.16,22.85],"nice":false,"zero":false},"axis":null},"y":{"datum":113,"type":"quantitative","axis":null},"text":{"field":"plasmid"}}},
  {"data":{"name":"scatter"},"transform":[{"filter":{"field":"plasmid","equal":"pKV713-EX"}}],"mark":{"type":"line","color":"black","strokeWidth":2.5},
   "encoding":{"x":{"field":"channel","type":"quantitative","scale":{"domain":[0,1005],"nice":false,"zero":false},"axis":null},"y":{"field":"cells","type":"quantitative","axis":null}}}
]},
{"width":718,"height":154,"resolve":{"scale":{"x":"independent"}},"layer":[
  {"data":{"name":"dna"},"transform":[{"filter":{"field":"plasmid","equal":"pKV713-EX2"}}],"mark":{"type":"line","color":"black","strokeWidth":2.5},
   "encoding":{"x":{"field":"chromosomes","type":"quantitative","scale":{"domain":[-0.16,22.85],"nice":false,"zero":false},"axis":{"values":[2,4,8],"labels":false,"domain":false,"grid":false,"tickSize":-5,"tickWidth":2,"tickColor":"black","title":null}},
   "y":{"field":"cells","type":"quantitative","scale":{"domain":[0,154],"nice":false,"zero":false},"axis":{"title":"number of cells","domain":false,"ticks":false,"labels":false,"grid":false,"titleX":-41,"titleY":89,"titleAngle":-90,"titleBaseline":"alphabetic","titleAlign":"center","titleFontSize":36}}}},
  {"data":{"name":"dividers"},"transform":[{"filter":{"field":"plasmid","equal":"pKV713-EX2"}}],"mark":{"type":"rule","color":"black","strokeWidth":2},
   "encoding":{"x":{"field":"chromosomes","type":"quantitative","scale":{"domain":[-0.16,22.85],"nice":false,"zero":false},"axis":null},"y":{"field":"cells","type":"quantitative"},"y2":{"datum":0}}},
  {"data":{"values":[{"plasmid":"pKV713-EX2"}]},"mark":{"type":"text","font":"DejaVu Sans","fontSize":36,"color":"black","align":"center","baseline":"alphabetic"},
   "encoding":{"x":{"datum":9.8,"type":"quantitative","scale":{"domain":[-0.16,22.85],"nice":false,"zero":false},"axis":null},"y":{"datum":110,"type":"quantitative"},"text":{"field":"plasmid"}}},
  {"data":{"name":"scatter"},"transform":[{"filter":{"field":"plasmid","equal":"pKV713-EX2"}}],"mark":{"type":"line","color":"black","strokeWidth":2.5},
   "encoding":{"x":{"field":"channel","type":"quantitative","scale":{"domain":[0,1005],"nice":false,"zero":false},"axis":null},"y":{"field":"cells","type":"quantitative"}}}
]},
{"width":718,"height":154,"resolve":{"scale":{"x":"independent"}},"layer":[
  {"data":{"name":"dna"},"transform":[{"filter":{"field":"plasmid","equal":"pMW119"}}],"mark":{"type":"line","color":"black","strokeWidth":2.5},
   "encoding":{"x":{"field":"chromosomes","type":"quantitative","scale":{"domain":[-0.16,22.85],"nice":false,"zero":false},"axis":{"values":[2,4,8],"labels":false,"domain":false,"grid":false,"tickSize":-5,"tickWidth":2,"tickColor":"black","title":null}},
   "y":{"field":"cells","type":"quantitative","scale":{"domain":[0,154],"nice":false,"zero":false},"axis":null}}},
  {"data":{"name":"dividers"},"transform":[{"filter":{"field":"plasmid","equal":"pMW119"}}],"mark":{"type":"rule","color":"black","strokeWidth":2},
   "encoding":{"x":{"field":"chromosomes","type":"quantitative","scale":{"domain":[-0.16,22.85],"nice":false,"zero":false},"axis":null},"y":{"field":"cells","type":"quantitative","axis":null},"y2":{"datum":0}}},
  {"data":{"values":[{"plasmid":"pMW119"}]},"mark":{"type":"text","font":"DejaVu Sans","fontSize":36,"color":"black","align":"center","baseline":"alphabetic"},
   "encoding":{"x":{"datum":10.2,"type":"quantitative","scale":{"domain":[-0.16,22.85],"nice":false,"zero":false},"axis":null},"y":{"datum":112,"type":"quantitative","axis":null},"text":{"field":"plasmid"}}},
  {"data":{"name":"scatter"},"transform":[{"filter":{"field":"plasmid","equal":"pMW119"}}],"mark":{"type":"line","color":"black","strokeWidth":2.5},
   "encoding":{"x":{"field":"channel","type":"quantitative","scale":{"domain":[0,1005],"nice":false,"zero":false},"axis":null},"y":{"field":"cells","type":"quantitative","axis":null}}}
]},
{"width":718,"height":154,"resolve":{"scale":{"x":"independent"}},"layer":[
  {"data":{"name":"dna"},"transform":[{"filter":{"field":"plasmid","equal":"pMW119-EX"}}],"mark":{"type":"line","color":"black","strokeWidth":2.5},
   "encoding":{"x":{"field":"chromosomes","type":"quantitative","scale":{"domain":[-0.16,22.85],"nice":false,"zero":false},"axis":{"values":[2,4,8],"labels":false,"domain":false,"grid":false,"tickSize":-5,"tickWidth":2,"tickColor":"black","title":null}},
   "y":{"field":"cells","type":"quantitative","scale":{"domain":[0,154],"nice":false,"zero":false},"axis":null}}},
  {"data":{"name":"dividers"},"transform":[{"filter":{"field":"plasmid","equal":"pMW119-EX"}}],"mark":{"type":"rule","color":"black","strokeWidth":3.5},
   "encoding":{"x":{"field":"chromosomes","type":"quantitative","scale":{"domain":[-0.16,22.85],"nice":false,"zero":false},"axis":null},"y":{"field":"cells","type":"quantitative","axis":null},"y2":{"datum":0}}},
  {"data":{"values":[{"plasmid":"pMW119-EX"}]},"mark":{"type":"text","font":"DejaVu Sans","fontSize":36,"color":"black","align":"center","baseline":"alphabetic"},
   "encoding":{"x":{"datum":9.98,"type":"quantitative","scale":{"domain":[-0.16,22.85],"nice":false,"zero":false},"axis":null},"y":{"datum":108,"type":"quantitative","axis":null},"text":{"field":"plasmid"}}},
  {"data":{"name":"scatter"},"transform":[{"filter":{"field":"plasmid","equal":"pMW119-EX"}}],"mark":{"type":"line","color":"black","strokeWidth":2.5},
   "encoding":{"x":{"field":"channel","type":"quantitative","scale":{"domain":[0,1005],"nice":false,"zero":false},"axis":null},"y":{"field":"cells","type":"quantitative","axis":null}}}
]},
{"width":718,"height":154,"resolve":{"scale":{"x":"independent"}},"layer":[
  {"data":{"name":"dna"},"transform":[{"filter":{"field":"plasmid","equal":"pMW119-EX2"}}],"mark":{"type":"line","color":"black","strokeWidth":2.5},
   "encoding":{"x":{"field":"chromosomes","type":"quantitative","scale":{"domain":[-0.16,22.85],"nice":false,"zero":false},"axis":{"values":[2,4,8],"labels":true,"labelFontSize":32,"labelBaseline":"alphabetic","labelPadding":39,"domain":false,"grid":false,"tickSize":-5,"tickWidth":2,"tickColor":"black","title":"number of chromosomes","titleX":168,"titleY":75,"titleBaseline":"alphabetic","titleAlign":"center","titleFontSize":37}},
   "y":{"field":"cells","type":"quantitative","scale":{"domain":[0,154],"nice":false,"zero":false},"axis":null}}},
  {"data":{"name":"dividers"},"transform":[{"filter":{"field":"plasmid","equal":"pMW119-EX2"}}],"mark":{"type":"rule","color":"black","strokeWidth":2},
   "encoding":{"x":{"field":"chromosomes","type":"quantitative","scale":{"domain":[-0.16,22.85],"nice":false,"zero":false},"axis":null},"y":{"field":"cells","type":"quantitative","axis":null},"y2":{"datum":0}}},
  {"data":{"values":[{"plasmid":"pMW119-EX2"}]},"mark":{"type":"text","font":"DejaVu Sans","fontSize":36,"color":"black","align":"center","baseline":"alphabetic"},
   "encoding":{"x":{"datum":9.87,"type":"quantitative","scale":{"domain":[-0.16,22.85],"nice":false,"zero":false},"axis":null},"y":{"datum":107,"type":"quantitative","axis":null},"text":{"field":"plasmid"}}},
  {"data":{"name":"scatter"},"transform":[{"filter":{"field":"plasmid","equal":"pMW119-EX2"}}],"mark":{"type":"line","color":"black","strokeWidth":2.5},
   "encoding":{"x":{"field":"channel","type":"quantitative","scale":{"domain":[0,1005],"nice":false,"zero":false},"axis":{"orient":"bottom","domain":false,"ticks":false,"labels":false,"grid":false,"title":"light scatter","titleX":549,"titleY":61,"titleBaseline":"alphabetic","titleAlign":"center","titleFontSize":37}},"y":{"field":"cells","type":"quantitative","axis":null}}}
]}
]
}
